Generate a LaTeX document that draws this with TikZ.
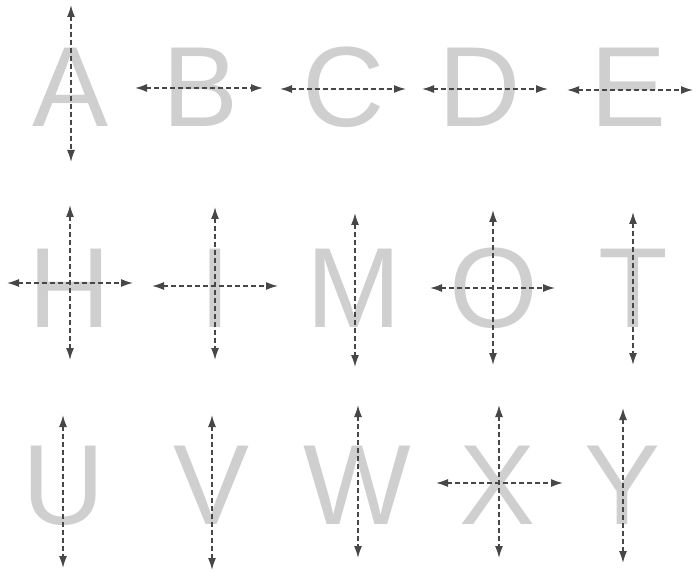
\documentclass[tikz,border=0pt]{standalone}
\usepackage{fontspec}
\setmainfont{Liberation Sans}
\usepackage{xcolor}
\usetikzlibrary{arrows.meta,calc}
\definecolor{lettergray}{HTML}{CFCFCF}
\definecolor{axisgray}{HTML}{474747}

\begin{document}
\begin{tikzpicture}[x=1pt,y=-1pt,
  letter/.style={anchor=base,inner sep=0pt,text=lettergray,font=\fontsize{114}{114}\selectfont},
  axis/.style={{Latex[length=12pt,width=8pt]}-{Latex[length=12pt,width=8pt]},axisgray,line width=1.5pt,dash pattern=on 5pt off 3pt}]
\useasboundingbox (0,0) rectangle (696,572);
% first row
\node[letter] (lA) at (71,127) {A};
\node[letter] (lB) at (201,127) {B};
\node[letter] (lC) at (344,127) {C};
\node[letter] (lD) at (480,127) {D};
\node[letter] (lE) at (629,127) {E};
\draw[axis] ($(lA.base)+(0,-122)$) -- ($(lA.base)+(0,35)$);
\draw[axis] ($(lB.base)+(-66,-39)$) -- ($(lB.base)+(62,-39)$);
\draw[axis] ($(lC.base)+(-64,-38)$) -- ($(lC.base)+(62,-38)$);
\draw[axis] ($(lD.base)+(-58,-38)$) -- ($(lD.base)+(68,-38)$);
\draw[axis] ($(lE.base)+(-62,-37)$) -- ($(lE.base)+(64,-37)$);
% second row
\node[letter] (lH) at (70,327) {H};
\node[letter] (lI) at (215,327) {I};
\node[letter] (lM) at (354,327) {M};
\node[letter] (lO) at (494,327) {O};
\node[letter] (lT) at (633,327) {T};
\draw[axis] ($(lH.base)+(0,-122)$) -- ($(lH.base)+(0,33)$);
\draw[axis] ($(lH.base)+(-63,-44)$) -- ($(lH.base)+(63,-44)$);
\draw[axis] ($(lI.base)+(0,-120)$) -- ($(lI.base)+(0,33)$);
\draw[axis] ($(lI.base)+(-63,-41)$) -- ($(lI.base)+(63,-41)$);
\draw[axis] ($(lM.base)+(1,-114)$) -- ($(lM.base)+(1,40)$);
\draw[axis] ($(lO.base)+(-1,-117)$) -- ($(lO.base)+(-1,38)$);
\draw[axis] ($(lO.base)+(-64,-39)$) -- ($(lO.base)+(61,-39)$);
\draw[axis] ($(lT.base)+(0,-115)$) -- ($(lT.base)+(0,38)$);
% third row
\node[letter] (lU) at (64,524) {U};
\node[letter] (lV) at (212,524) {V};
\node[letter] (lW) at (357,524) {W};
\node[letter] (lX) at (498,524) {X};
\node[letter] (lY) at (623,524) {Y};
\draw[axis] ($(lU.base)+(-1,-109)$) -- ($(lU.base)+(-1,44)$);
\draw[axis] ($(lV.base)+(0,-109)$) -- ($(lV.base)+(0,46)$);
\draw[axis] ($(lW.base)+(1,-119)$) -- ($(lW.base)+(1,34)$);
\draw[axis] ($(lX.base)+(1,-119)$) -- ($(lX.base)+(1,34)$);
\draw[axis] ($(lX.base)+(-62,-41)$) -- ($(lX.base)+(65,-41)$);
\draw[axis] ($(lY.base)+(0,-116)$) -- ($(lY.base)+(0,39)$);
\end{tikzpicture}
\end{document}
